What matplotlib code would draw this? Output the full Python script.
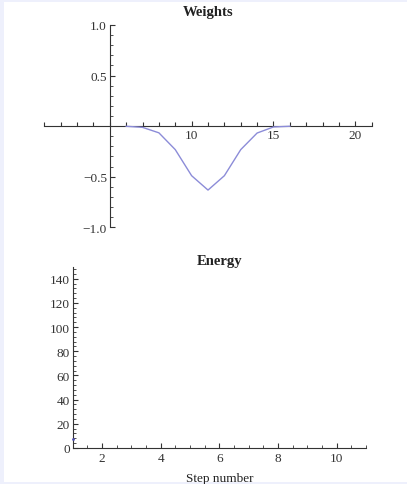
import numpy as np
import matplotlib
matplotlib.use("Agg")
import matplotlib.pyplot as plt
from matplotlib.patches import Rectangle
from matplotlib.ticker import MultipleLocator, FixedLocator

# weights (zero elsewhere)
weight_x = [6, 7, 8, 9, 10, 11, 12, 13, 14, 15, 16]
weight_y = [-0.001, -0.012, -0.066, -0.232, -0.49, -0.632, -0.49, -0.232, -0.068, -0.008, -0.001]

# energy: only one visible point at step 1
energy_x = [1]
energy_y = [7.5]

weight_xticks = [10, 15, 20]
weight_yticks = [-1.0, -0.5, 0.5, 1.0]
energy_xticks = [2, 4, 6, 8, 10]
energy_yticks = [0, 20, 40, 60, 80, 100, 120, 140]

line_color = "#8c8cd8"
font = "Liberation Serif"
plt.rcParams['font.family'] = [font, 'DejaVu Serif']

fig = plt.figure(figsize=(4.07, 4.85), dpi=100)
fig.patch.set_facecolor("#eef0fc")
# white panel inside lavender frame
fig.patches.append(Rectangle((4 / 407, 2 / 485), 403 / 407, 480 / 485,
                             transform=fig.transFigure, facecolor="white",
                             edgecolor="none", zorder=-10))

# --- Weights ---
ax1 = fig.add_axes([44.3 / 407, 1 - 228.3 / 485, 327.4 / 407, 202.3 / 485])
ax1.set_facecolor("none")
ax1.plot(weight_x, weight_y, color=line_color, lw=1.0, zorder=3)
ax1.set_xlim(1, 21)
ax1.set_ylim(-1, 1)
for s in ["top", "right"]:
    ax1.spines[s].set_visible(False)
ax1.spines["left"].set_position(("data", 5))
ax1.spines["bottom"].set_position(("data", 0))
for s in ["left", "bottom"]:
    ax1.spines[s].set_linewidth(0.8)
    ax1.spines[s].set_color("#333333")
ax1.xaxis.set_major_locator(FixedLocator(weight_xticks))
ax1.xaxis.set_minor_locator(FixedLocator([v for v in range(1, 22) if v not in weight_xticks]))
ax1.set_xticklabels([str(v) for v in weight_xticks])
ax1.yaxis.set_major_locator(FixedLocator(weight_yticks))
ax1.yaxis.set_minor_locator(MultipleLocator(0.1))
ax1.set_yticklabels(["\u22121.0", "\u22120.5", "0.5", "1.0"])
ax1.tick_params(axis="x", which="major", direction="in", length=3.5, width=0.8,
                labelsize=9.5, pad=2, colors="#333333")
ax1.tick_params(axis="x", which="minor", direction="in", length=3, width=0.8, colors="#333333")
ax1.tick_params(axis="y", which="major", direction="in", length=3.5, width=0.8,
                labelsize=9.5, pad=2, colors="#333333")
ax1.tick_params(axis="y", which="minor", direction="in", length=2, width=0.6, colors="#333333")
ax1.set_title("Weights", fontsize=10.5, fontweight="bold", pad=7, color="#222222")

# --- Energy ---
ax2 = fig.add_axes([72.7 / 407, 1 - 449 / 485, 293.3 / 407, 181.3 / 485])
ax2.set_facecolor("none")
ax2.plot(energy_x, energy_y, "o", color="#5050b0", ms=2, mew=0, clip_on=False, zorder=3)
ax2.set_xlim(1, 11)
ax2.set_ylim(0, 150)
for s in ["top", "right"]:
    ax2.spines[s].set_visible(False)
for s in ["left", "bottom"]:
    ax2.spines[s].set_linewidth(0.8)
    ax2.spines[s].set_color("#333333")
ax2.set_xticks(energy_xticks)
ax2.xaxis.set_minor_locator(MultipleLocator(0.5))
ax2.set_yticks(energy_yticks)
ax2.yaxis.set_minor_locator(MultipleLocator(4))
ax2.tick_params(axis="both", which="major", direction="in", length=3.5, width=0.8,
                labelsize=9.5, colors="#333333")
ax2.tick_params(axis="x", which="major", pad=3)
ax2.tick_params(axis="y", which="major", pad=2)
ax2.tick_params(axis="both", which="minor", direction="in", length=2, width=0.6, colors="#333333")
ax2.set_title("Energy", fontsize=10.5, fontweight="bold", pad=2, color="#222222")
ax2.set_xlabel("Step number", fontsize=9.5, labelpad=6, color="#222222")

fig.savefig("out.png", dpi=100, facecolor=fig.get_facecolor())
